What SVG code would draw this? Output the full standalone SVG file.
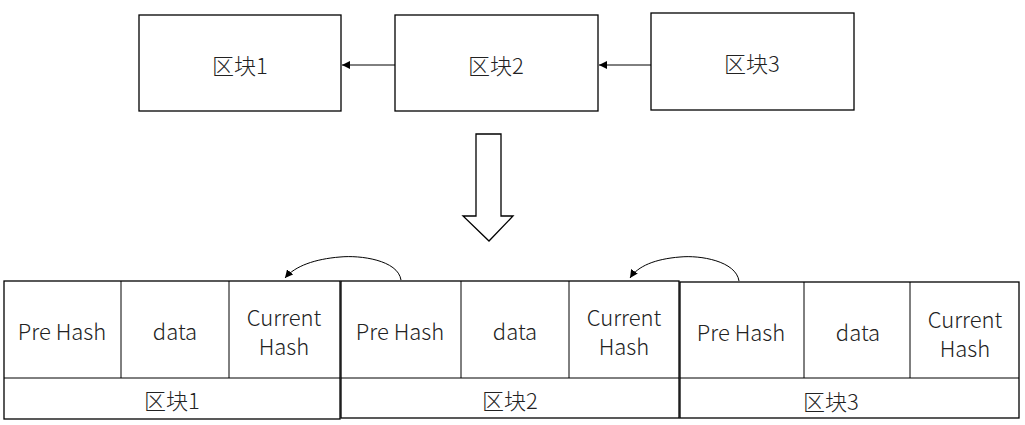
<svg xmlns="http://www.w3.org/2000/svg" width="1025" height="425" viewBox="0 0 1025 425">
<defs>
<style>
.box{fill:#fff;stroke:#000;stroke-width:1.3}
.ln{fill:none;stroke:#000;stroke-width:1}
.t{font-family:"Noto Sans CJK SC","Noto Sans",sans-serif;font-size:22px;font-weight:300;fill:#222;text-anchor:middle;dominant-baseline:central}
</style>
<marker id="ah" viewBox="0 0 10 10" refX="10" refY="5" markerWidth="8" markerHeight="8" markerUnits="userSpaceOnUse" orient="auto">
<path d="M0,0 L10,5 L0,10 z" fill="#000"/>
</marker>
</defs>
<rect width="1025" height="425" fill="#fff"/>
<g id="top1"><rect class="box" x="139" y="15" width="202" height="96"/><text class="t" x="240" y="64">区块1</text></g>
<g id="top2"><rect class="box" x="395" y="15" width="203" height="96"/><text class="t" x="496" y="64">区块2</text></g>
<g id="top3"><rect class="box" x="651" y="13" width="203" height="97"/><text class="t" x="752" y="62">区块3</text></g>
<g id="bigarrow"><path class="box" d="M476,134 H501 V216 H513 L489,241 L463,216 H476 Z"/></g>
<g id="block1">
<rect class="box" x="4" y="281" width="336" height="138"/>
<line class="ln" x1="4" y1="378" x2="340" y2="378" stroke-width="1.3"/>
<line class="ln" x1="121" y1="281" x2="121" y2="378"/>
<line class="ln" x1="229" y1="281" x2="229" y2="378"/>
<text class="t" x="62" y="330">Pre Hash</text>
<text class="t" x="175" y="330">data</text>
<text class="t" x="284" y="316">Current</text>
<text class="t" x="284" y="345">Hash</text>
<text class="t" x="172" y="399">区块1</text>
</g>
<g id="block2">
<rect class="box" x="341" y="281" width="338" height="137"/>
<line class="ln" x1="341" y1="378" x2="679" y2="378" stroke-width="1.3"/>
<line class="ln" x1="461" y1="281" x2="461" y2="378"/>
<line class="ln" x1="569" y1="281" x2="569" y2="378"/>
<text class="t" x="400" y="330">Pre Hash</text>
<text class="t" x="515" y="330">data</text>
<text class="t" x="624" y="316">Current</text>
<text class="t" x="624" y="345">Hash</text>
<text class="t" x="510" y="399">区块2</text>
</g>
<g id="block3">
<rect class="box" x="680" y="282" width="339" height="136"/>
<line class="ln" x1="680" y1="378" x2="1019" y2="378" stroke-width="1.3"/>
<line class="ln" x1="804" y1="282" x2="804" y2="378"/>
<line class="ln" x1="910" y1="282" x2="910" y2="378"/>
<text class="t" x="741" y="331">Pre Hash</text>
<text class="t" x="858" y="331">data</text>
<text class="t" x="965" y="318">Current</text>
<text class="t" x="965" y="347">Hash</text>
<text class="t" x="831" y="400">区块3</text>
</g>
<g id="connectors">
<line class="ln" x1="395" y1="65" x2="342" y2="65" marker-end="url(#ah)"/>
<line class="ln" x1="651" y1="65" x2="599" y2="65" marker-end="url(#ah)"/>
<path class="ln" d="M401,280 C398,260 360,255 340,257 C315,259 295,266 285,278" marker-end="url(#ah)"/>
<path class="ln" d="M739,281 C736,261 700,255 680,257 C655,259 638,266 630,278" marker-end="url(#ah)"/>
</g>
</svg>
